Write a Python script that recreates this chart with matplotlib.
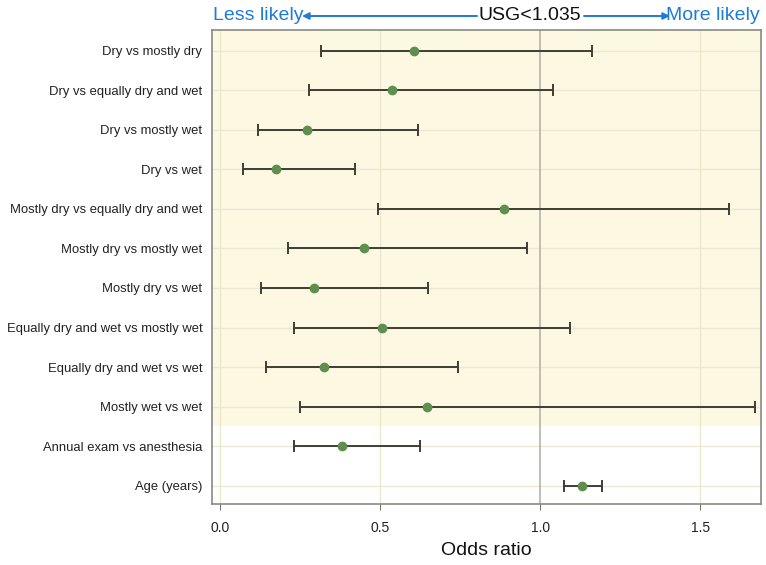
import numpy as np
import matplotlib
matplotlib.use("Agg")
import matplotlib.pyplot as plt

plt.rcParams["font.family"] = ["Liberation Sans", "DejaVu Sans"]

labels = [
    "Dry vs mostly dry",
    "Dry vs equally dry and wet",
    "Dry vs mostly wet",
    "Dry vs wet",
    "Mostly dry vs equally dry and wet",
    "Mostly dry vs mostly wet",
    "Mostly dry vs wet",
    "Equally dry and wet vs mostly wet",
    "Equally dry and wet vs wet",
    "Mostly wet vs wet",
    "Annual exam vs anesthesia",
    "Age (years)",
]
odds = [0.605, 0.538, 0.273, 0.176, 0.886, 0.449, 0.293, 0.506, 0.326, 0.647, 0.380, 1.132]
ci_low = [0.315, 0.277, 0.120, 0.072, 0.494, 0.211, 0.128, 0.232, 0.144, 0.249, 0.231, 1.075]
ci_high = [1.161, 1.041, 0.620, 0.422, 1.591, 0.959, 0.651, 1.094, 0.742, 1.672, 0.626, 1.192]
x_ticks = [0.0, 0.5, 1.0, 1.5]
n_yellow = 10

W, H = 766, 565
fig = plt.figure(figsize=(W / 100, H / 100), dpi=100)
ax = fig.add_axes([212 / W, 1 - 504 / H, (761 - 212) / W, (504 - 30) / H])

y = np.arange(len(labels))
odds = np.array(odds)
err = [odds - np.array(ci_low), np.array(ci_high) - odds]

ax.set_facecolor("white")
ax.axhspan(-0.6, n_yellow - 0.5, color="#fdf8e2", zorder=0, lw=0)

for yy in y:
    ax.axhline(yy, color="#ece8d4", lw=1, zorder=1)
for xt in x_ticks:
    if xt == 1.0:
        ax.axvline(xt, color="#b4b4a8", lw=1.2, zorder=1)
    else:
        ax.axvline(xt, color="#ece8cc", lw=1, zorder=1)

ax.errorbar(odds, y, xerr=err, fmt="none", ecolor="#3e3e34", elinewidth=1.4,
            capsize=4.3, capthick=1.4, zorder=3)
ax.plot(odds, y, "o", color="#5e8f4e", ms=6, zorder=4)

ax.set_xlim(-0.025, 1.69)
ax.set_ylim(len(labels) - 1 + 0.46, -0.52)
ax.set_yticks(y)
ax.set_yticklabels(labels, fontsize=9.4, color="#222222")
ax.tick_params(axis="y", length=0, pad=7)
ax.set_xticks(x_ticks)
ax.set_xticklabels([f"{t:.1f}" for t in x_ticks], fontsize=10, color="#222222")
ax.tick_params(axis="x", length=4, color="#777777", pad=8)
ax.set_xlabel("Odds ratio", fontsize=14, color="#111111", labelpad=5)

for s in ax.spines.values():
    s.set_color("#8a8a84")
    s.set_linewidth(1.2)

# header with arrows
blue = "#1e7bd8"
ty = 1 - 16 / H
fig.text(213 / W, ty, "Less likely", color=blue, fontsize=14, ha="left", va="center")
fig.text(760 / W, ty, "More likely", color=blue, fontsize=14, ha="right", va="center")
fig.text(530 / W, ty, "USG<1.035", color="#111111", fontsize=14, ha="center", va="center")
ax.annotate("", xy=(302 / W, ty), xytext=(477 / W, ty), xycoords="figure fraction",
            textcoords="figure fraction",
            arrowprops=dict(arrowstyle="-|>", color=blue, lw=1.4, mutation_scale=10,
                            shrinkA=0, shrinkB=0))
ax.annotate("", xy=(670 / W, ty), xytext=(584 / W, ty), xycoords="figure fraction",
            textcoords="figure fraction",
            arrowprops=dict(arrowstyle="-|>", color=blue, lw=1.4, mutation_scale=10,
                            shrinkA=0, shrinkB=0))

fig.savefig("out.png", dpi=100)
